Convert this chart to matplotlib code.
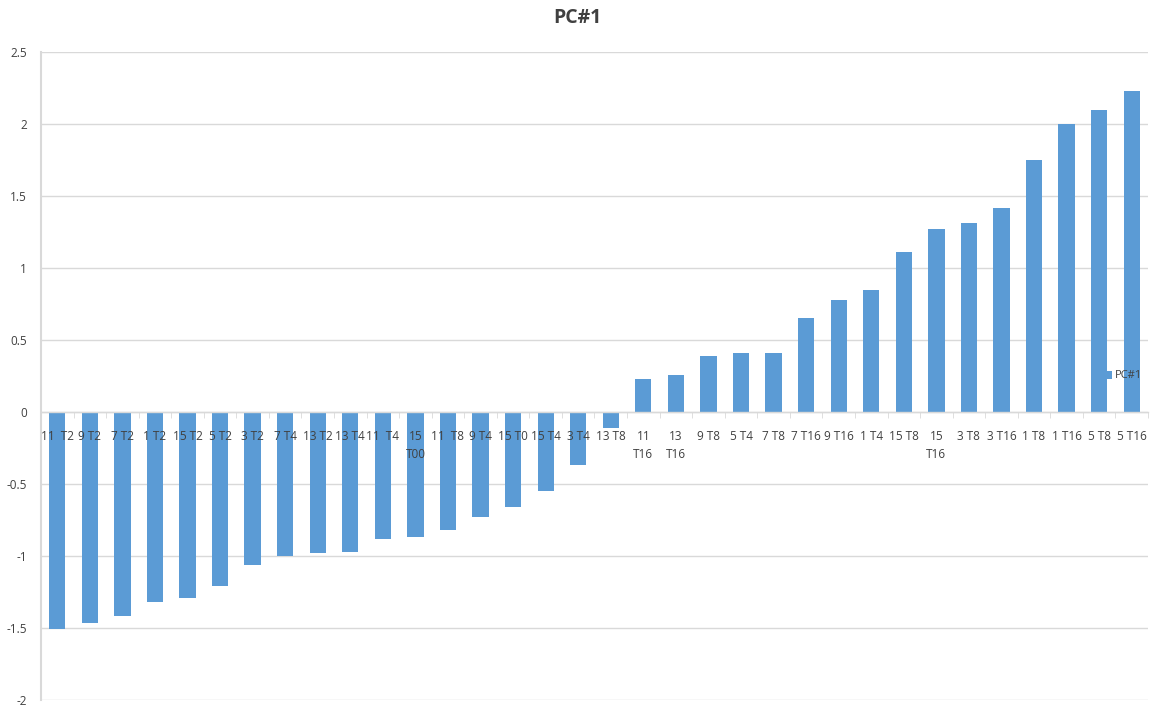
import matplotlib.pyplot as plt
import numpy as np

labels = ["11  T2", "9 T2", "7 T2", "1 T2", "15 T2", "5 T2", "3 T2", "7 T4",
          "13 T2", "13 T4", "11  T4", "15\nT00", "11  T8", "9 T4", "15 T0",
          "15 T4", "3 T4", "13 T8", "11\nT16", "13\nT16", "9 T8", "5 T4",
          "7 T8", "7 T16", "9 T16", "1 T4", "15 T8", "15\nT16", "3 T8",
          "3 T16", "1 T8", "1 T16", "5 T8", "5 T16"]
pc1 = [-1.51, -1.465, -1.42, -1.32, -1.29, -1.21, -1.06, -1.00,
       -0.98, -0.97, -0.88, -0.87, -0.82, -0.73, -0.66,
       -0.55, -0.37, -0.11, 0.23, 0.26, 0.39, 0.41,
       0.41, 0.65, 0.78, 0.85, 1.11, 1.27, 1.31,
       1.42, 1.75, 2.00, 2.10, 2.23]
yticks = [-2, -1.5, -1, -0.5, 0, 0.5, 1, 1.5, 2, 2.5]

plt.rcParams['font.family'] = ['Open Sans', 'DejaVu Sans']
blue = '#5b9bd5'
grey = '#d9d9d9'

fig = plt.figure(figsize=(11.55, 7.06), dpi=100)
ax = fig.add_axes([41/1155, 6/706, 1107/1155, 648/706])

x = np.arange(len(labels))
ax.bar(x, pc1, width=0.5, color=blue, label='PC#1', zorder=3)

ax.set_xlim(-0.5, len(labels) - 0.5)
ax.set_ylim(-2, 2.5)
ax.set_yticks(yticks)
ax.set_yticklabels([f"{v:g}" for v in yticks], fontsize=8.5, color='#404040')
ax.yaxis.grid(True, color=grey, linewidth=1, zorder=0)
ax.tick_params(axis='y', length=0, pad=10)

for s in ['top', 'right']:
    ax.spines[s].set_visible(False)
ax.spines['left'].set_color(grey)
ax.spines['left'].set_linewidth(1.5)
ax.spines['bottom'].set_position(('data', 0))
ax.spines['bottom'].set_color(grey)
ax.spines['bottom'].set_linewidth(1)
ax.spines['bottom'].set_zorder(4)

ax.set_xticks(x)
ax.set_xticklabels(labels, fontsize=8.5, color='#404040', linespacing=1.5, va='top')
ax.tick_params(axis='x', length=0, pad=13)
ax.set_xticks(np.arange(len(labels) + 1) - 0.5, minor=True)
ax.tick_params(axis='x', which='minor', length=4, color=grey, direction='out')
ax.xaxis.set_zorder(5)

fig.text(0.5, 1 - 18/706, 'PC#1', ha='center', va='center', fontsize=14,
         fontweight='bold', color='#404040')

ax.legend(loc='center left', frameon=False, fontsize=8, handlelength=0.7,
          handleheight=0.7, handletextpad=0.3, borderaxespad=0,
          borderpad=0, labelcolor='#404040')
leg = ax.get_legend()
leg.set_bbox_to_anchor((1104/1155, 1 - 376/706), transform=fig.transFigure)

fig.savefig('out.png', dpi=100)
